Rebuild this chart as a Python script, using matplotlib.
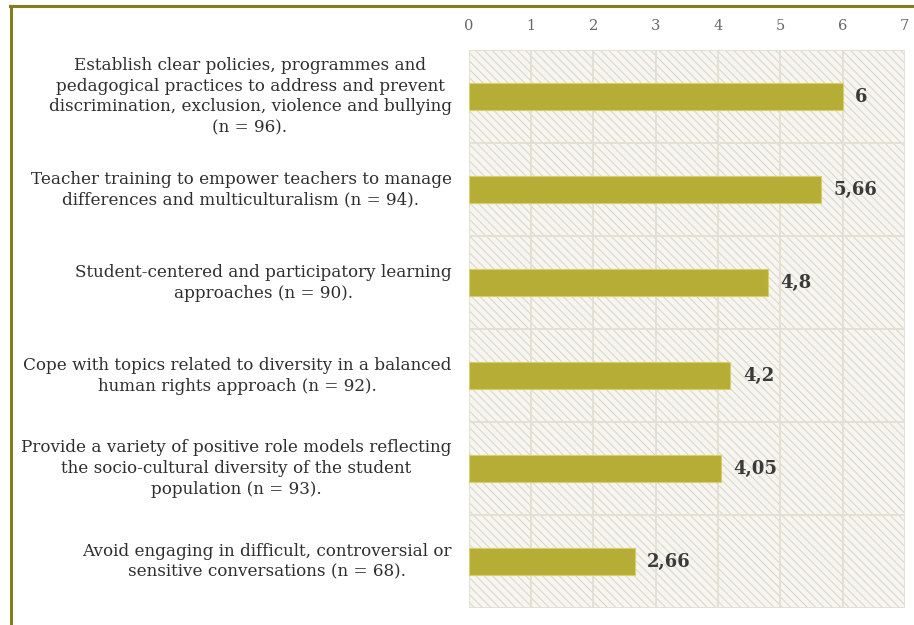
#!/usr/bin/env python3
# -*- coding: utf-8 -*-

"""
horizontal bar chart of mean ratings per strategy
"""
import matplotlib
matplotlib.use('Agg')
import matplotlib.pyplot as plt
import matplotlib.transforms as mtransforms
from matplotlib.patches import Rectangle
from matplotlib.lines import Line2D

labels = [
    'Establish clear policies, programmes and\npedagogical practices to address and prevent\n'
    'discrimination, exclusion, violence and bullying\n(n = 96).',
    'Teacher training to empower teachers to manage\ndifferences and multiculturalism (n = 94).',
    'Student-centered and participatory learning\napproaches (n = 90).',
    'Cope with topics related to diversity in a balanced\nhuman rights approach (n = 92).',
    'Provide a variety of positive role models reflecting\nthe socio-cultural diversity of the student\n'
    'population (n = 93).',
    'Avoid engaging in difficult, controversial or\nsensitive conversations (n = 68).',
]
values = [6, 5.66, 4.8, 4.2, 4.05, 2.66]
value_labels = ['6', '5,66', '4,8', '4,2', '4,05', '2,66']
ticks = [0, 1, 2, 3, 4, 5, 6, 7]

plt.rcParams['font.family'] = ['DejaVu Serif']
plt.rcParams['hatch.linewidth'] = 0.7

fig = plt.figure(figsize=(9.14, 6.25), dpi=100)
ax = fig.add_axes([0.513, 0.027, 0.477, 0.893])

n = len(values)
ypos = list(range(n))

# hatched background
ax.set_facecolor('#f6f5ef')
ax.add_patch(Rectangle((0, -0.5), 7, n, facecolor='none', edgecolor='#d8d5c8',
                       linewidth=0, hatch='\\\\\\\\', zorder=0))

ax.barh(ypos, values, height=0.29, color='#b6ad37', edgecolor='#d8cf66',
        linewidth=0.8, zorder=3)

for y, v, t in zip(ypos, values, value_labels):
    ax.text(v + 0.2, y, t, va='center', ha='left', fontsize=13,
            fontweight='bold', color='#3a3a3a', zorder=4)

# category labels: block right aligned, lines centred
trans = mtransforms.blended_transform_factory(fig.transFigure, ax.transData)
for y, lab in zip(ypos, labels):
    ax.text(0.494, y, lab, transform=trans, ha='right', va='center',
            multialignment='center', fontsize=12.1, color='#2e2e2e',
            linespacing=1.3)

ax.set_xlim(0, 7)
ax.set_ylim(n - 0.5, -0.5)
ax.set_xticks(ticks)
ax.set_xticklabels([str(t) for t in ticks])
ax.xaxis.tick_top()
ax.tick_params(axis='x', length=0, pad=12, labelsize=10.5, labelcolor='#666666')
ax.set_yticks([])

for x in ticks:
    ax.axvline(x, color='#e2dfd3', lw=1.3, zorder=1)
for y in [i + 0.5 for i in range(-1, n)]:
    ax.axhline(y, color='#e2dfd3', lw=1.3, zorder=1)

for s in ax.spines.values():
    s.set_visible(False)

# olive frame on top and left
fig.add_artist(Line2D([0.011, 1.0], [0.99, 0.99], transform=fig.transFigure,
                      color='#857b1f', lw=2.2))
fig.add_artist(Line2D([0.012, 0.012], [0.0, 0.99], transform=fig.transFigure,
                      color='#857b1f', lw=2.2))

plt.savefig('out.png', dpi=100)
